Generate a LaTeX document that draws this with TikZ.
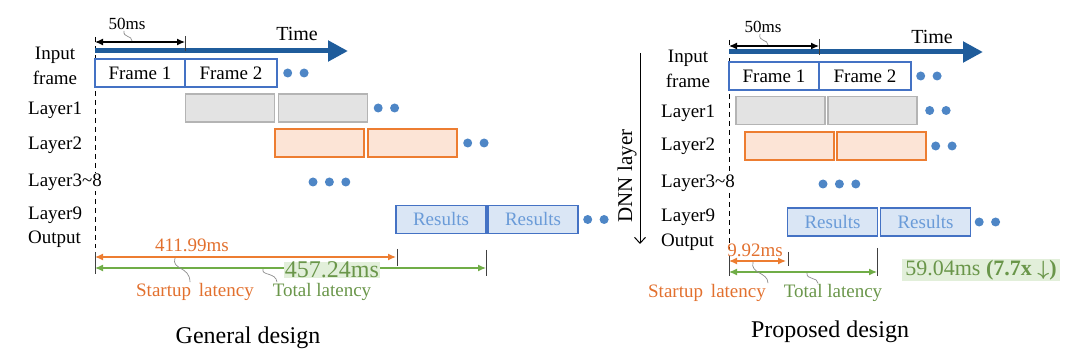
\documentclass[tikz,border=0pt]{standalone}
\usepackage{amsmath}
\usepackage{fontspec}
\setmainfont{Liberation Serif}
\usepackage{tikz}
\usetikzlibrary{arrows.meta,positioning}
\definecolor{timeblue}{RGB}{31,92,155}
\definecolor{frameblue}{RGB}{68,114,196}
\definecolor{dotblue}{RGB}{78,134,198}
\definecolor{resfill}{RGB}{218,230,245}
\definecolor{restext}{RGB}{106,155,216}
\definecolor{grayfill}{RGB}{227,227,227}
\definecolor{grayline}{RGB}{180,180,180}
\definecolor{orgfill}{RGB}{252,228,214}
\definecolor{orgline}{RGB}{237,125,49}
\definecolor{orgtext}{RGB}{226,112,46}
\definecolor{grnline}{RGB}{112,173,71}
\definecolor{grntext}{RGB}{106,150,74}
\definecolor{grnfill}{RGB}{226,239,218}
\definecolor{leadgray}{RGB}{140,140,140}
\tikzset{
  lbl/.style={font=\fontsize{19}{25}\selectfont, inner sep=1pt},
  framebox/.style={draw=frameblue, line width=1.2pt,
    minimum width=90pt, minimum height=28pt, inner sep=0pt, outer sep=0pt,
    font=\fontsize{19}{21}\selectfont},
  graybox/.style={draw=grayline, fill=grayfill, line width=1.2pt,
    minimum width=89pt, minimum height=28pt, inner sep=0pt, outer sep=0pt},
  orgbox/.style={draw=orgline, fill=orgfill, line width=1.2pt,
    minimum width=89pt, minimum height=28pt, inner sep=0pt, outer sep=0pt},
  resbox/.style={draw=frameblue, fill=resfill, text=restext, line width=1.2pt,
    minimum width=90pt, minimum height=28pt, inner sep=0pt, outer sep=0pt,
    font=\fontsize{19}{21}\selectfont},
  dotc/.style={circle, fill=dotblue, inner sep=0pt, minimum size=9pt},
  timearr/.style={-{Triangle[length=20pt,width=20pt]}, line width=5pt, timeblue},
  dimarr/.style={{Latex[length=8pt,width=7pt]}-{Latex[length=8pt,width=7pt]}, line width=1.2pt},
  tickln/.style={line width=1pt, black!75},
  vdash/.style={dashed, dash pattern=on 5pt off 4pt, line width=1pt},
  lead/.style={leadgray, line width=0.7pt},
}
\begin{document}
\begin{tikzpicture}[x=1pt, y=-1pt,
  tlbl/.style={font=\fontsize{20}{22}\selectfont},
  slbl/.style={font=\fontsize{17}{19}\selectfont, inner sep=1pt},
  capt/.style={font=\fontsize{24}{26}\selectfont}
]
  \useasboundingbox (0,0) rectangle (1080,358);
  % general design
  \coordinate (vtL) at (95,37);
  \coordinate (vbL) at (95,248);
  \draw[vdash] (vtL) -- (vbL);
  \coordinate (taL) at (95,51);
  \coordinate (tbL) at (348,51);
  \draw[timearr] (taL) -- (tbL);
  \node[tlbl] (timeL) at (297,34) {Time};
  \coordinate (maL) at (95,42);
  \coordinate (mbL) at (185,42);
  \draw[dimarr] (maL) -- (mbL);
  \draw[tickln] (185,36) -- (185,51);
  \node[slbl] (msL) at (127,24) {50ms};
  \coordinate (mqL) at (132,41);
  \draw[lead] ([xshift=-3pt]msL.south) .. controls (123,38) and (132,35) .. (mqL);
  \node[framebox] (f1L) at (140,73) {Frame 1};
  \node[framebox, minimum width=92pt, right=0pt of f1L] (f2L) {Frame 2};
  \node[dotc, right=6pt of f2L] (fd1L) {};
  \node[dotc, right=7pt of fd1L] (fd2L) {};
  \node[graybox] (g1L) at (230,108) {};
  \node[graybox, right=4pt of g1L] (g2L) {};
  \node[dotc, right=6pt of g2L] (gd1L) {};
  \node[dotc, right=7pt of gd1L] (gd2L) {};
  \node[orgbox] (o1L) at (319.5,143) {};
  \node[orgbox, right=4pt of o1L] (o2L) {};
  \node[dotc, right=6pt of o2L] (od1L) {};
  \node[dotc, right=7pt of od1L] (od2L) {};
  \node[dotc] (md1L) at (313,182) {};
  \node[dotc, right=7pt of md1L] (md2L) {};
  \node[dotc, right=7pt of md2L] (md3L) {};
  \node[resbox] (r1L) at (441,219.5) {Results};
  \node[resbox, right=2pt of r1L] (r2L) {Results};
  \node[dotc, right=5pt of r2L] (rd1L) {};
  \node[dotc, right=7pt of rd1L] (rd2L) {};
  \node[lbl, align=center] (inL) at (55,66) {Input\\frame};
  \node[lbl, anchor=west] (l1L) at (27,110) {Layer1};
  \node[lbl, anchor=west] (l2L) at (27,145) {Layer2};
  \node[lbl, anchor=west, fill=white] (l3L) at (27,182) {Layer3\textasciitilde 8};
  \node[lbl, anchor=west] (l9L) at (27,215) {Layer9};
  \node[lbl, anchor=west] (outL) at (27,239) {Output};
  \coordinate (saL) at (95,257);
  \coordinate (sbL) at (396,257);
  \draw[dimarr, orgline] (saL) -- (sbL);
  \coordinate (gaL) at (95,268);
  \coordinate (gbL) at (486,268);
  \draw[dimarr, grnline] (gaL) -- (gbL);
  \draw[tickln] (95,252) -- (95,274);
  \draw[tickln] (397,249) -- (397,266);
  \draw[tickln] (486,250) -- (486,276);
  \node[lbl, text=orgtext] (sval) at (192,245) {411.99ms};
  \node[font=\fontsize{24}{26}\selectfont, text=grntext, fill=grnfill,
    inner xsep=1pt, inner ysep=0pt] (gval) at (332,270) {457.24ms};
  \node[lbl, text=orgtext] (suL) at (195,292) {Startup\, latency};
  \node[lbl, text=grntext] (toL) at (322,292) {Total latency};
  \coordinate (sqL) at (175,258);
  \coordinate (tqL) at (263,269);
  \draw[lead] (sqL) .. controls (171,270) and (190,266) .. ([xshift=-5pt]suL.north);
  \draw[lead] (tqL) .. controls (261,276) and (276,272) .. ([xshift=-45pt]toL.north);
  \node[capt] (capL) at (248,338) {General design};
  % proposed design
  \coordinate (vtR) at (729,40);
  \coordinate (vbR) at (729,250);
  \draw[vdash] (vtR) -- (vbR);
  \coordinate (taR) at (729,52);
  \coordinate (tbR) at (983,52);
  \draw[timearr] (taR) -- (tbR);
  \node[tlbl] (timeR) at (932,37) {Time};
  \coordinate (maR) at (729,46);
  \coordinate (mbR) at (819,46);
  \draw[dimarr] (maR) -- (mbR);
  \draw[tickln] (819,39) -- (819,55);
  \node[slbl] (msR) at (763,27) {50ms};
  \coordinate (mqR) at (768,45);
  \draw[lead] ([xshift=-3pt]msR.south) .. controls (758,42) and (768,39) .. (mqR);
  \node[framebox] (f1R) at (774,76) {Frame 1};
  \node[framebox, minimum width=92pt, right=0pt of f1R] (f2R) {Frame 2};
  \node[dotc, right=5pt of f2R] (fd1R) {};
  \node[dotc, right=7pt of fd1R] (fd2R) {};
  \node[graybox] (g1R) at (780.5,110.5) {};
  \node[graybox, right=3pt of g1R] (g2R) {};
  \node[dotc, right=8pt of g2R] (gd1R) {};
  \node[dotc, right=7pt of gd1R] (gd2R) {};
  \node[orgbox] (o1R) at (789.5,146) {};
  \node[orgbox, right=3pt of o1R] (o2R) {};
  \node[dotc, right=5pt of o2R] (od1R) {};
  \node[dotc, right=7pt of od1R] (od2R) {};
  \node[dotc] (md1R) at (823,184) {};
  \node[dotc, right=7pt of md1R] (md2R) {};
  \node[dotc, right=7pt of md2R] (md3R) {};
  \node[resbox] (r1R) at (832.5,222) {Results};
  \node[resbox, right=3pt of r1R] (r2R) {Results};
  \node[dotc, right=4pt of r2R] (rd1R) {};
  \node[dotc, right=7pt of rd1R] (rd2R) {};
  \node[lbl, align=center] (inR) at (688,69) {Input\\frame};
  \node[lbl, anchor=west] (l1R) at (660,113) {Layer1};
  \node[lbl, anchor=west] (l2R) at (660,146) {Layer2};
  \node[lbl, anchor=west, fill=white] (l3R) at (660,183) {Layer3\textasciitilde 8};
  \node[lbl, anchor=west] (l9R) at (660,217) {Layer9};
  \node[lbl, anchor=west] (outR) at (660,242) {Output};
  \coordinate (dnnT) at (640,53);
  \coordinate (dnnB) at (640,244);
  \draw[-{Straight Barb[length=6pt,width=11pt]}, line width=1pt] (dnnT) -- (dnnB);
  \node[font=\fontsize{21}{23}\selectfont, rotate=90] (dnn) at (627,176) {DNN layer};
  \coordinate (saR) at (729,261);
  \coordinate (sbR) at (786,261);
  \draw[dimarr, orgline] (saR) -- (sbR);
  \coordinate (gaR) at (729,272);
  \coordinate (gbR) at (877,272);
  \draw[dimarr, grnline] (gaR) -- (gbR);
  \draw[tickln] (729,256) -- (729,276);
  \draw[tickln] (788,252) -- (788,266);
  \draw[tickln] (877,248) -- (877,276);
  \node[lbl, text=orgtext] (svR) at (755,250) {9.92ms};
  \node[font=\fontsize{22}{24}\selectfont, text=grntext, fill=grnfill,
    inner xsep=3pt, inner ysep=1pt] (gvR) at (981,270)
    {59.04ms \textbf{(7.7x $\boldsymbol{\downarrow}$)}};
  \node[lbl, text=orgtext] (suR) at (707,293) {Startup\, latency};
  \node[lbl, text=grntext] (toR) at (833,293) {Total latency};
  \coordinate (sqR) at (753,262);
  \coordinate (tqR) at (807,273);
  \draw[lead] (sqR) .. controls (750,274) and (768,272) .. ([xshift=61pt]suR.north);
  \draw[lead] (tqR) .. controls (806,280) and (818,277) .. ([xshift=-15pt]toR.north);
  \node[capt] (capR) at (830,332) {Proposed design};
\end{tikzpicture}
\end{document}
